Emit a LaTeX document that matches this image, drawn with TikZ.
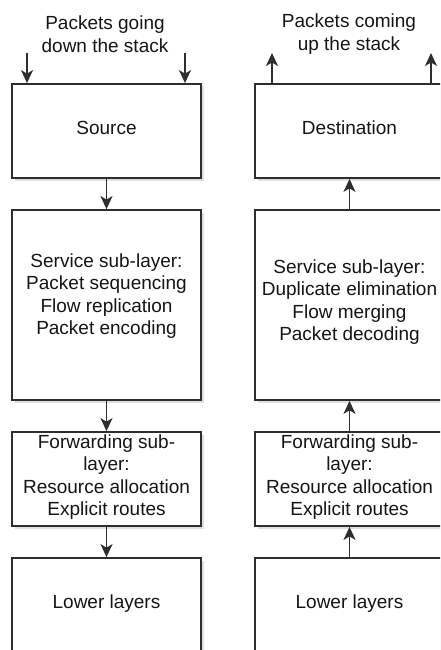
\documentclass[tikz,border=0pt]{standalone}
\usepackage{fontspec}
\setmainfont{Liberation Sans}
\usetikzlibrary{arrows.meta,shadows}
\definecolor{edge}{HTML}{2E2E2E}
\definecolor{ink}{HTML}{151515}
\begin{document}
\begin{tikzpicture}[x=1pt,y=-1pt,
  layer/.style={draw=edge, line width=1.8pt, fill=white, minimum width=189pt,
    inner sep=0pt, drop shadow={shadow xshift=2.5pt, shadow yshift=-2.5pt, opacity=0.25, fill=gray}},
  txt/.style={align=center, text=ink, inner sep=0pt, font=\fontsize{19}{22.5}\selectfont},
  flow/.style={draw=edge, line width=1.6pt, -{Stealth[length=13pt, width=12pt, inset=3.5pt]}}]
\useasboundingbox (0,0) rectangle (440,650);
\clip (0,0) rectangle (440,650);

% sending stack (left column)
\node[layer, minimum height=94pt]  (src)  at (106.5,131) {};
\node[layer, minimum height=190pt] (svcL) at (106.5,305) {};
\node[layer, minimum height=94pt]  (fwdL) at (106.5,479) {};
\node[layer, minimum height=150pt] (lowL) at (106.5,633) {};

% receiving stack (right column)
\node[layer, minimum height=94pt]  (dst)  at (349.5,131) {};
\node[layer, minimum height=190pt] (svcR) at (349.5,305) {};
\node[layer, minimum height=94pt]  (fwdR) at (349.5,479) {};
\node[layer, minimum height=150pt] (lowR) at (349.5,633) {};

% labels
\node[txt] (downT) at (105,34) {Packets going\\down the stack};
\node[txt] (upT)   at (349,34) {Packets coming\\up the stack};
\node[txt] (srcT)  at (106.5,128) {Source};
\node[txt] (dstT)  at (349.5,128) {Destination};
\node[txt] (svcLT) at (106.5,296) {Service sub-layer:\\Packet sequencing\\Flow replication\\Packet encoding};
\node[txt] (svcRT) at (349.5,302) {Service sub-layer:\\Duplicate elimination\\Flow merging\\Packet decoding};
\node[txt] (fwdLT) at (106.5,477) {Forwarding sub-\\layer:\\Resource allocation\\Explicit routes};
\node[txt] (fwdRT) at (349.5,477) {Forwarding sub-\\layer:\\Resource allocation\\Explicit routes};
\node[txt] (lowLT) at (106.5,604) {Lower layers};
\node[txt] (lowRT) at (349.5,604) {Lower layers};

% packets entering and leaving the stacks
\coordinate (inA)  at (27,53);
\coordinate (inB)  at (185,53);
\coordinate (outA) at (272,53);
\coordinate (outB) at (431,53);
\draw[flow] (inA) -- (inA |- src.north);
\draw[flow] (inB) -- (inB |- src.north);
\draw[flow] (outA |- dst.north) -- (outA);
\draw[flow] (outB |- dst.north) -- (outB);

% downward flow through the sending stack
\draw[flow] (src.south) -- (svcL.north);
\draw[flow] (svcL.south) -- (fwdL.north);
\draw[flow] (fwdL.south) -- (lowL.north);

% upward flow through the receiving stack
\draw[flow] (lowR.north) -- (fwdR.south);
\draw[flow] (fwdR.north) -- (svcR.south);
\draw[flow] (svcR.north) -- (dst.south);
\end{tikzpicture}
\end{document}
